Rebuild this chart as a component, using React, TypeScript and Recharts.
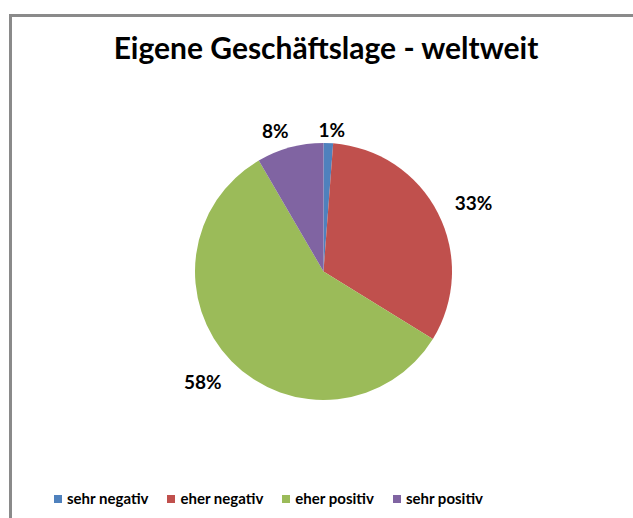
import React from 'react';
import { PieChart, Pie, Cell, Legend } from 'recharts';

const categories = ['sehr negativ', 'eher negativ', 'eher positiv', 'sehr positiv'];
const shares = [1.2, 32.6, 57.8, 8.4];
const colors = ['#4F81BD', '#C0504D', '#9BBB59', '#8064A2'];
const title = 'Eigene Geschäftslage - weltweit';

const data = categories.map((name, i) => ({ name, value: shares[i] }));

const FONT = 'Lato, "Open Sans", sans-serif';
const RADIAN = Math.PI / 180;

// labels sit outside the slice, nudged sideways away from the pie on the left/right
function renderLabel(props: any) {
  const { cx, cy, midAngle, outerRadius, value } = props;
  const cos = Math.cos(-midAngle * RADIAN);
  const sin = Math.sin(-midAngle * RADIAN);
  const r = outerRadius * 1.12 + 15 * Math.abs(cos);
  const nudge = 10 * Math.tanh(cos * 8);
  return (
    <text
      x={cx + r * cos + nudge}
      y={cy + r * sin + 2}
      textAnchor="middle"
      dominantBaseline="central"
      fill="#000"
      fontFamily={FONT}
      fontWeight={700}
      fontSize={19}
    >
      {`${Math.round(value)}%`}
    </text>
  );
}

// legend built from the category arrays so the order matches the slices
function renderLegend() {
  return (
    <div style={{ display: 'flex', gap: 19, fontFamily: FONT, fontWeight: 700, fontSize: 15, color: '#000' }}>
      {categories.map((name, i) => (
        <div key={name} style={{ display: 'flex', alignItems: 'center' }}>
          <span style={{ display: 'inline-block', width: 8, height: 8, background: colors[i], marginRight: 5, marginTop: 2 }} />
          <span>{name}</span>
        </div>
      ))}
    </div>
  );
}

export default function App() {
  return (
    <div style={{ position: 'absolute', left: 0, top: 0, width: 633, height: 518, overflow: 'hidden', background: '#fff' }}>
      <div
        style={{
          position: 'absolute',
          left: 9,
          top: 14,
          width: 700,
          height: 600,
          border: '3px solid #8a8a8a',
        }}
      />
      <div
        style={{
          position: 'absolute',
          left: 0,
          top: 32,
          width: 652,
          textAlign: 'center',
          fontFamily: FONT,
          fontWeight: 700,
          fontSize: 30,
          lineHeight: '30px',
          color: '#000',
        }}
      >
        {title}
      </div>
      <div style={{ position: 'absolute', left: 0, top: 0 }}>
        <PieChart width={633} height={518} margin={{ top: 0, right: 0, bottom: 0, left: 0 }}>
          <Pie
            data={data}
            dataKey="value"
            nameKey="name"
            cx={323.5}
            cy={271.5}
            outerRadius={128.5}
            startAngle={90}
            endAngle={-270}
            stroke="none"
            label={renderLabel}
            labelLine={false}
            isAnimationActive={false}
          >
            {data.map((d, i) => (
              <Cell key={d.name} fill={colors[i]} />
            ))}
          </Pie>
          <Legend
            content={renderLegend}
            wrapperStyle={{ left: 54, top: 489, width: 'auto' }}
          />
        </PieChart>
      </div>
    </div>
  );
}
